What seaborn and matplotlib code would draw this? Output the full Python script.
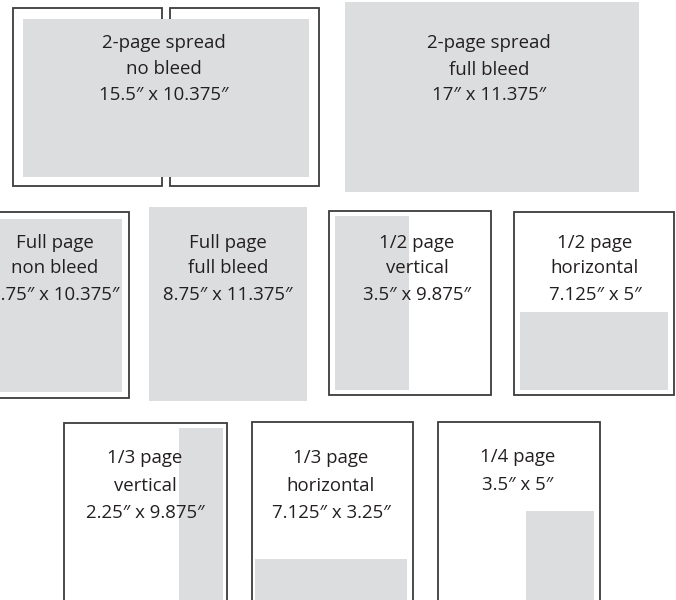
import matplotlib
matplotlib.use("Agg")
import matplotlib.pyplot as plt
from matplotlib.patches import Rectangle
import seaborn as sns

# ---- data (text content of each ad-size panel) ----
ad_title = ["2-page spread", "2-page spread", "Full page", "Full page",
            "1/2 page", "1/2 page", "1/3 page", "1/3 page", "1/4 page"]
ad_kind = ["no bleed", "full bleed", "non bleed", "full bleed",
           "vertical", "horizontal", "vertical", "horizontal", ""]
ad_width_in = ["15.5", "17", "7.75", "8.75", "3.5", "7.125", "2.25", "7.125", "3.5"]
ad_height_in = ["10.375", "11.375", "10.375", "11.375", "9.875", "5", "9.875", "3.25", "5"]

# ---- layout (pixel canvas) ----
# page outlines: list of (x0, y0, x1, y1) per panel
outlines = [
    [(13, 8, 162, 186), (170, 8, 319, 186)],
    [],
    [(-24, 212, 129, 398)],
    [],
    [(329, 211, 491, 395)],
    [(514, 212, 674, 395)],
    [(64, 423, 227, 615)],
    [(252, 422, 413, 615)],
    [(438, 422, 600, 615)],
]
# shaded ad areas
shades = [
    (23, 19, 309, 177),
    (345, 2, 639, 192),
    (-17, 219, 122, 392),
    (149, 207, 307, 401),
    (335, 216, 409, 390),
    (520, 312, 668, 390),
    (179, 428, 223, 615),
    (255, 559, 407, 615),
    (526, 511, 594, 615),
]
text_x = [164, 489, 55, 228, 417, 595, 145, 331, 518]
text_rows = [(43, 69, 95), (43, 70, 95), (243, 268, 295), (243, 268, 295),
             (243, 268, 295), (243, 268, 295), (458, 486, 513), (458, 486, 513),
             (457, 485, None)]

sns.set_theme(style="white")
plt.rcParams["font.family"] = ["Open Sans", "DejaVu Sans"]

fig = plt.figure(figsize=(6.76, 6.0), dpi=100)
ax = fig.add_axes([0, 0, 1, 1])
ax.set_xlim(0, 676)
ax.set_ylim(600, 0)
ax.axis("off")

GRAY = "#dcdddf"
EDGE = "#3c3c3c"
TXT = "#231f20"

for boxes in outlines:
    for (x0, y0, x1, y1) in boxes:
        ax.add_patch(Rectangle((x0, y0), x1 - x0, y1 - y0, facecolor="white",
                               edgecolor=EDGE, lw=1.3, zorder=1))
for (x0, y0, x1, y1) in shades:
    ax.add_patch(Rectangle((x0, y0), x1 - x0, y1 - y0, facecolor=GRAY,
                           edgecolor="none", zorder=2))

for i in range(len(ad_title)):
    size_txt = f"{ad_width_in[i]}\u2033 x {ad_height_in[i]}\u2033"
    lines = [ad_title[i]] + ([ad_kind[i]] if ad_kind[i] else []) + [size_txt]
    ys = [y for y in text_rows[i] if y is not None]
    for line, y in zip(lines, ys):
        ax.text(text_x[i], y, line, ha="center", va="center", fontsize=13.4,
                color=TXT, zorder=3)

fig.savefig("out.png", dpi=100)
